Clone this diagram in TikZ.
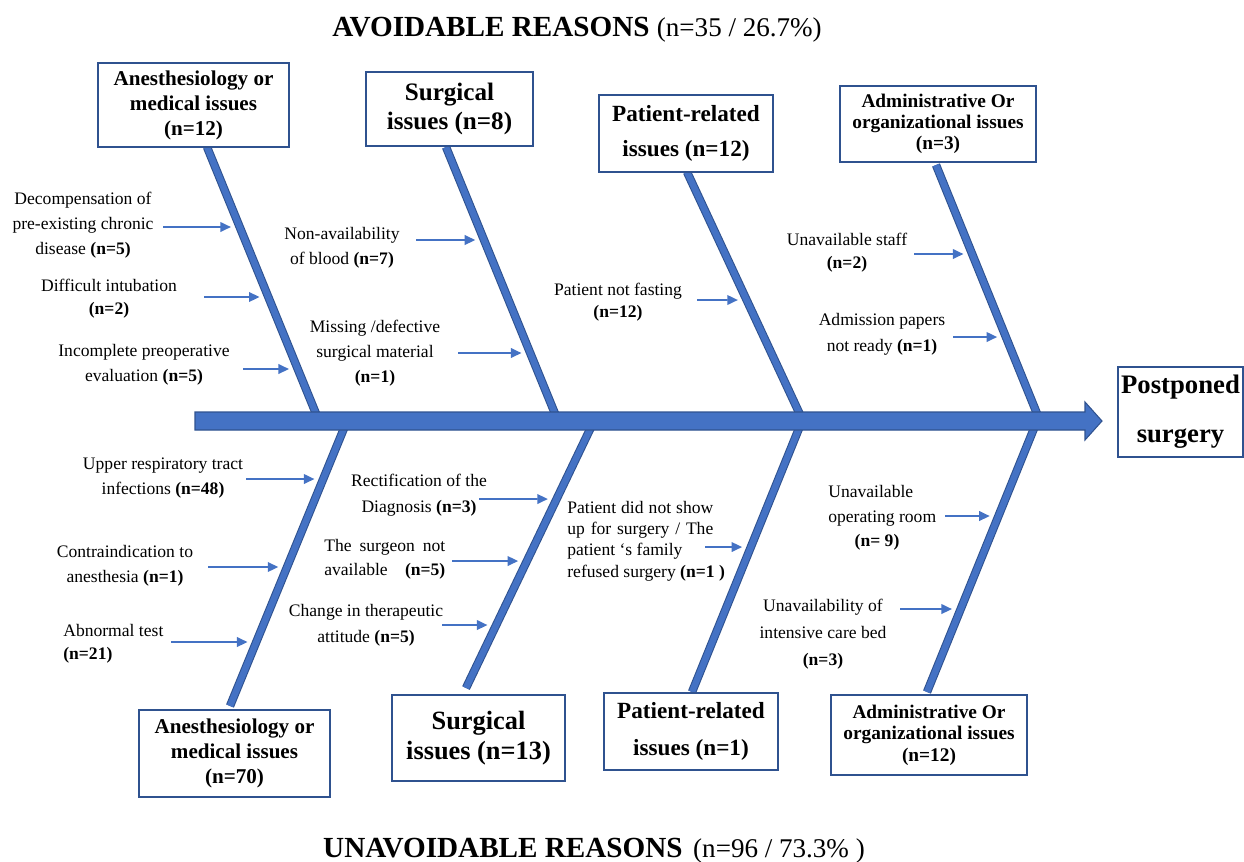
\documentclass[tikz,border=0pt]{standalone}
\usepackage{fontspec}
\setmainfont{Liberation Serif}
\usetikzlibrary{arrows.meta}
\definecolor{boneblue}{HTML}{4472C4}
\definecolor{bonedark}{HTML}{2F528F}
\newcommand{\fs}[2]{\fontsize{#1}{#2}\selectfont}
\tikzset{
  category/.style={draw=bonedark, line width=1.1pt, fill=white, align=center, inner sep=0pt},
  cause/.style={align=center, inner sep=0pt, font=\fs{10}{14.2}},
  bone/.style={draw=bonedark, line width=4.8pt, postaction={draw=boneblue, line width=3.6pt}},
  causearrow/.style={draw=boneblue, line width=0.9pt, -{Triangle[length=6pt,width=5.5pt]}, shorten >=5pt},
}
% arrow from a label towards a bone, at height #2
\newcommand{\causeto}[3]{\draw[causearrow] (#1,#2) -- (intersection of #3a--#3b and 0,#2--1,#2);}
\begin{document}
\begin{tikzpicture}[x=0.02cm, y=-0.02cm]
  \useasboundingbox (0,0) rectangle (1244,862);
  % bones
  \coordinate (U1a) at (207,147); \coordinate (U1b) at (319,421);
  \coordinate (U2a) at (446,147); \coordinate (U2b) at (558,421);
  \coordinate (U3a) at (687,172); \coordinate (U3b) at (803,421);
  \coordinate (U4a) at (936,165); \coordinate (U4b) at (1040,421);
  \coordinate (D1a) at (347,421); \coordinate (D1b) at (230,706);
  \coordinate (D2a) at (594,421); \coordinate (D2b) at (466,688);
  \coordinate (D3a) at (802,421); \coordinate (D3b) at (692,692);
  \coordinate (D4a) at (1037,421); \coordinate (D4b) at (927,692);
  \foreach \b in {U1,U2,U3,U4,D1,D2,D3,D4}
    \draw[bone] (\b a) -- (\b b);
  % spine
  \draw[fill=boneblue, draw=bonedark, line width=0.6pt] (195,412) -- (1085,412) -- (1085,402) -- (1102,421)
    -- (1085,440) -- (1085,430) -- (195,430) -- cycle;

  % category boxes
  \node[category, minimum width=3.82cm, minimum height=1.68cm, font=\bfseries\fs{12}{14.2}] (anesUp) at (193.5,105) {Anesthesiology or\\medical issues\\(n=12)};
  \node[category, minimum width=3.34cm, minimum height=1.48cm, font=\bfseries\fs{14.3}{17}] (surgUp) at (449.5,109) {Surgical\\issues (n=8)};
  \node[category, minimum width=3.48cm, minimum height=1.54cm, font=\bfseries\fs{13.2}{20}] (patUp) at (686,133.5) {Patient-related\\issues (n=12)};
  \node[category, minimum width=3.92cm, minimum height=1.52cm, font=\bfseries\fs{11}{12}] (admUp) at (938,124) {Administrative Or\\organizational issues\\(n=3)};
  \node[category, minimum width=3.82cm, minimum height=1.74cm, font=\bfseries\fs{12}{14.2}] (anesDn) at (234.5,753.5) {Anesthesiology or\\medical issues\\(n=70)};
  \node[category, minimum width=3.46cm, minimum height=1.72cm, font=\bfseries\fs{15}{17}] (surgDn) at (478.5,738) {Surgical\\issues (n=13)};
  \node[category, minimum width=3.48cm, minimum height=1.54cm, font=\bfseries\fs{13.2}{21}] (patDn) at (691,731.5) {Patient-related\\issues (n=1)};
  \node[category, minimum width=3.92cm, minimum height=1.60cm, font=\bfseries\fs{11}{12.2}] (admDn) at (929,735) {Administrative Or\\organizational issues\\(n=12)};
  \node[category, line width=0.8pt, minimum width=2.5cm, minimum height=1.8cm, font=\bfseries\fs{15.2}{28}] (result) at (1180.5,412) {Postponed\\surgery};

  % titles
  \node[anchor=base, font=\bfseries\fs{16.6}{20}] (avoid) at (577,36) {AVOIDABLE REASONS {\fs{15.4}{20}\mdseries (n=35 / 26.7\%)}};
  \node[anchor=base, font=\bfseries\fs{16.6}{20}] (unavoid) at (594,857) {UNAVOIDABLE REASONS\hspace{6pt}{\fs{15.4}{20}\mdseries (n=96 / 73.3\% )}};

  % avoidable causes
  \node[cause] (decomp) at (83,225) {Decompensation of\\pre-existing chronic\\disease \textbf{(n=5)}};
  \node[cause, font=\fs{10}{13}] (intub) at (109,299) {Difficult intubation\\\textbf{(n=2)}};
  \node[cause] (preop) at (144,365) {Incomplete preoperative\\evaluation \textbf{(n=5)}};
  \node[cause] (blood) at (342,248) {Non-availability\\of blood \textbf{(n=7)}};
  \node[cause] (material) at (375,353) {Missing /defective\\surgical material\\\textbf{(n=1)}};
  \node[cause, font=\fs{10}{12.5}] (fasting) at (618,302) {Patient not fasting\\\textbf{(n=12)}};
  \node[cause, font=\fs{10}{13}] (staff) at (847,253) {Unavailable staff\\\textbf{(n=2)}};
  \node[cause, font=\fs{10}{14.7}] (papers) at (882,334) {Admission papers\\not ready \textbf{(n=1)}};
  \causeto{163}{227}{U1}
  \causeto{204}{297}{U1}
  \causeto{243}{369}{U1}
  \causeto{416}{240}{U2}
  \causeto{458}{353}{U2}
  \causeto{697}{300}{U3}
  \causeto{914}{254}{U4}
  \causeto{953}{337}{U4}

  % unavoidable causes
  \node[cause] (resp) at (163,478) {Upper respiratory tract\\infections \textbf{(n=48)}};
  \node[cause] (contra) at (125,566) {Contraindication to\\anesthesia \textbf{(n=1)}};
  \node[cause, anchor=west, align=left, font=\fs{10}{13}] (abtest) at (63,644) {Abnormal test\\\textbf{(n=21)}};
  \node[cause, font=\fs{10}{14.7}] (rectif) at (419,495) {Rectification of the\\Diagnosis \textbf{(n=3)}};
  \node[cause, anchor=west, align=left, text width=2.42cm, font=\fs{10}{13.6}] (surgeon) at (324,559) {The\hfill surgeon\hfill not\\available\hfill\textbf{(n=5)}};
  \node[cause, font=\fs{10}{14.7}] (attitude) at (366,625) {Change in therapeutic\\attitude \textbf{(n=5)}};
  \node[cause, anchor=west, align=justify, text width=2.92cm, font=\fs{10}{12.2}] (noshow) at (567,541) {Patient did not show up for surgery / The patient ‘s family\\\mbox{refused surgery \textbf{(n=1 )}}};
  \node[cause, anchor=west, align=left, font=\fs{10}{13.9}] (room) at (828,518) {Unavailable\\operating room\\\hspace*{15pt}\textbf{(n= 9)}};
  \node[cause, font=\fs{10}{15.3}] (icubed) at (823,634) {Unavailability of\\intensive care bed\\\textbf{(n=3)}};
  \causeto{246}{479}{D1}
  \causeto{208}{567}{D1}
  \causeto{171}{642}{D1}
  \causeto{479}{499}{D2}
  \causeto{452}{561}{D2}
  \causeto{442}{625}{D2}
  \causeto{705}{547}{D3}
  \causeto{945}{516}{D4}
  \causeto{900}{609}{D4}
\end{tikzpicture}
\end{document}
